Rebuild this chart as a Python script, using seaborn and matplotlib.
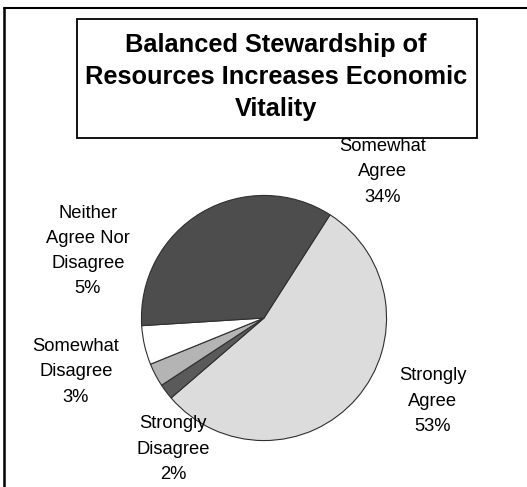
import matplotlib
matplotlib.use("Agg")
import matplotlib.pyplot as plt
from matplotlib.lines import Line2D
from matplotlib.patches import Rectangle
import seaborn as sns

# Survey responses, in clockwise order starting from "Strongly Agree"
categories = ["Strongly Agree", "Strongly Disagree", "Somewhat Disagree",
              "Neither Agree Nor Disagree", "Somewhat Agree"]
label_lines = [["Strongly", "Agree"], ["Strongly", "Disagree"],
               ["Somewhat", "Disagree"], ["Neither", "Agree Nor", "Disagree"],
               ["Somewhat", "Agree"]]
percents = [53, 2, 3, 5, 34]
slice_colors = ["#dcdcdc", "#5a5a5a", "#b4b4b4", "#ffffff", "#4d4d4d"]

title = "Balanced Stewardship of\nResources Increases Economic\nVitality"

sns.set_theme(style="white")
plt.rcParams["font.family"] = ["Liberation Sans", "DejaVu Sans"]

W, H = 527, 487
fig = plt.figure(figsize=(W / 100, H / 100), dpi=100)
fig.patch.set_facecolor("white")


def fx(px):
    return px / W


def fy(py):
    return 1 - py / H


# Pie axes: centre (264, 318) px, radius 125 px
cx, cy, r = 264, 318, 125
ax = fig.add_axes([fx(cx - r), fy(cy + r), 2 * r / W, 2 * r / H])
ax.pie(percents, colors=slice_colors, startangle=57.4, counterclock=False,
       radius=1.0,
       wedgeprops=dict(edgecolor="#303030", linewidth=0.8))
ax.set_xlim(-1.02, 1.02)
ax.set_ylim(-1.02, 1.02)
ax.set_aspect("equal")
ax.axis("off")

# Data labels (category + percentage), placed around the pie
label_pos = [(433, 401), (173, 449), (76, 372), (88, 251), (383, 172)]
for lines, pct, (lx, ly) in zip(label_lines, percents, label_pos):
    fig.text(fx(lx), fy(ly), "\n".join(lines + [f"{pct}%"]),
             ha="center", va="center", fontsize=13.2, color="black",
             linespacing=1.62)

# Title in a framed box
fig.patches.append(Rectangle((fx(77), fy(138)), fx(477) - fx(77),
                             fy(19) - fy(138), transform=fig.transFigure,
                             facecolor="white", edgecolor="black",
                             linewidth=1.3, zorder=1))
fig.text(fx(276), fy(77), title, ha="center", va="center",
         fontsize=18.3, fontweight="bold", color="black", linespacing=1.4,
         zorder=2)

# Chart area frame (top and left edges)
fig.lines.append(Line2D([fx(4), 1.0], [fy(8), fy(8)],
                        transform=fig.transFigure, color="black", linewidth=1.5))
fig.lines.append(Line2D([fx(4), fx(4)], [fy(8), 0.0],
                        transform=fig.transFigure, color="black", linewidth=1.8))

fig.savefig("out.png", dpi=100, facecolor="white")
